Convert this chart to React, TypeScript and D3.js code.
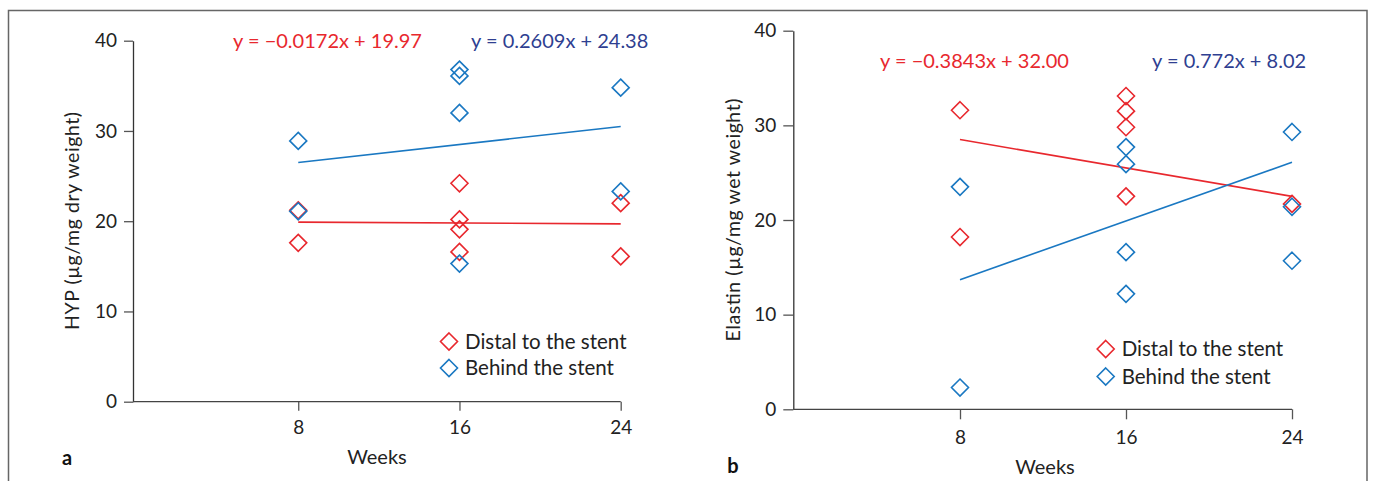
import React, { useEffect, useRef } from "react";
import * as d3 from "d3";

// week positions on the x axis
const weekTicks = [8, 16, 24];
const yTicks = [0, 10, 20, 30, 40];

// panel a: HYP
const hypDistalWeeks = [8, 8, 16, 16, 16, 16, 24, 24];
const hypDistalValues = [21.2, 17.6, 24.2, 20.2, 19.1, 16.6, 22.0, 16.1];
const hypBehindWeeks = [8, 8, 16, 16, 16, 16, 24, 24];
const hypBehindValues = [28.9, 21.1, 36.8, 36.1, 32.0, 15.3, 34.8, 23.3];
const hypDistalFit = [19.9, 19.7]; // value at week 8 and 24
const hypBehindFit = [26.5, 30.5];

// panel b: elastin
const elaDistalWeeks = [8, 8, 16, 16, 16, 16, 24];
const elaDistalValues = [31.6, 18.2, 33.1, 31.5, 29.8, 22.5, 21.7];
const elaBehindWeeks = [8, 8, 16, 16, 16, 16, 24, 24, 24];
const elaBehindValues = [23.5, 2.3, 27.7, 25.9, 16.6, 12.2, 29.3, 21.4, 15.7];
const elaDistalFit = [28.5, 22.5];
const elaBehindFit = [13.7, 26.1];

const seriesNames = ["Distal to the stent", "Behind the stent"];

const RED = "#e8282e";
const BLUE = "#1a78c2";
const NAVY = "#2f3f91";
const FONT = "Lato, 'Open Sans', sans-serif";

const panels = [
  {
    letter: "a",
    yLabel: "HYP (µg/mg dry weight)",
    eqDistal: "y = \u22120.0172x + 19.97",
    eqBehind: "y = 0.2609x + 24.38",
    distal: { weeks: hypDistalWeeks, values: hypDistalValues, fit: hypDistalFit },
    behind: { weeks: hypBehindWeeks, values: hypBehindValues, fit: hypBehindFit },
    axisX: 133,
    xRange: [137, 620.7],
    yRange: [401.7, 40.7],
    tickSize: 9,
    eq: { y: 41, distalX: 233, behindX: 471 },
    legend: { x: 449, y: 341.5, gap: 26.5 },
    yLabelPos: [72, 221],
    yLabelLen: 218,
    weeksPos: [377, 457],
    letterPos: [67, 458],
  },
  {
    letter: "b",
    yLabel: "Elastin (µg/mg wet weight)",
    eqDistal: "y = \u22120.3843x + 32.00",
    eqBehind: "y = 0.772x + 8.02",
    distal: { weeks: elaDistalWeeks, values: elaDistalValues, fit: elaDistalFit },
    behind: { weeks: elaBehindWeeks, values: elaBehindValues, fit: elaBehindFit },
    axisX: 793.3,
    xRange: [794, 1292],
    yRange: [409.3, 30.7],
    tickSize: 10,
    eq: { y: 61, distalX: 880, behindX: 1152 },
    legend: { x: 1105.7, y: 349, gap: 27.5 },
    yLabelPos: [733, 220],
    yLabelLen: 243,
    weeksPos: [1045, 467],
    letterPos: [733, 466],
  },
];

const diamond = (cx, cy, r) =>
  `M${cx},${cy - r}L${cx + r},${cy}L${cx},${cy + r}L${cx - r},${cy}Z`;

const App = () => {
  const ref = useRef(null);

  useEffect(() => {
    const svg = d3.select(ref.current);
    svg.selectAll("*").remove();

    // outer frame (open at the bottom)
    svg
      .append("path")
      .attr("d", "M8.5,481V10.5H1367V481")
      .attr("fill", "none")
      .attr("stroke", "#666")
      .attr("stroke-width", 1.5);

    panels.forEach((p) => {
      const x = d3.scaleLinear().domain([0, 24]).range(p.xRange);
      const y = d3.scaleLinear().domain([0, 40]).range(p.yRange);
      const g = svg.append("g").style("font-family", FONT);

      // y axis
      const ya = g
        .append("g")
        .attr("transform", `translate(${p.axisX},0)`)
        .call(
          d3
            .axisLeft(y)
            .tickValues(yTicks)
            .tickSize(p.tickSize)
            .tickSizeOuter(0)
            .tickPadding(7)
        );
      ya.select(".domain").attr("stroke", "#333").attr("stroke-width", 1.3);
      ya.selectAll(".tick line").attr("stroke", "#555").attr("stroke-width", 1.3);
      ya.selectAll("text")
        .attr("fill", "#222")
        .style("font-size", "19px")
        .style("font-family", FONT);

      // x axis
      const xa = g
        .append("g")
        .attr("transform", `translate(0,${y(0)})`)
        .call(
          d3
            .axisBottom(x)
            .tickValues(weekTicks)
            .tickSize(p.tickSize)
            .tickSizeOuter(0)
            .tickPadding(p.tickSize + 1)
        );
      xa.select(".domain").remove();
      xa.append("line")
        .attr("x1", p.axisX)
        .attr("x2", x(24))
        .attr("stroke", "#444")
        .attr("stroke-width", 1.3);
      xa.selectAll(".tick line").attr("stroke", "#555").attr("stroke-width", 1.3);
      xa.selectAll("text")
        .attr("fill", "#222")
        .style("font-size", "19px")
        .style("font-family", FONT);

      // regression lines
      [
        [p.distal.fit, RED],
        [p.behind.fit, BLUE],
      ].forEach(([fit, c]) => {
        g.append("line")
          .attr("x1", x(8))
          .attr("y1", y(fit[0]))
          .attr("x2", x(24))
          .attr("y2", y(fit[1]))
          .attr("stroke", c)
          .attr("stroke-width", 1.6);
      });

      // points
      [
        [p.distal, RED],
        [p.behind, BLUE],
      ].forEach(([s, c]) => {
        g.append("g")
          .selectAll("path")
          .data(s.values)
          .join("path")
          .attr("d", (v, i) => diamond(x(s.weeks[i]), y(v), 8.5))
          .attr("fill", "none")
          .attr("stroke", c)
          .attr("stroke-width", 1.6);
      });

      // equations
      g.append("text")
        .attr("x", p.eq.distalX)
        .attr("y", p.eq.y)
        .attr("dy", "0.35em")
        .attr("fill", RED)
        .style("font-size", "20px")
        .text(p.eqDistal);
      g.append("text")
        .attr("x", p.eq.behindX)
        .attr("y", p.eq.y)
        .attr("dy", "0.35em")
        .attr("fill", NAVY)
        .style("font-size", "20px")
        .text(p.eqBehind);

      // legend
      [RED, BLUE].forEach((c, i) => {
        const ly = p.legend.y + i * p.legend.gap;
        g.append("path")
          .attr("d", diamond(p.legend.x, ly, 8.5))
          .attr("fill", "none")
          .attr("stroke", c)
          .attr("stroke-width", 1.6);
        g.append("text")
          .attr("x", p.legend.x + 16)
          .attr("y", ly)
          .attr("dy", "0.35em")
          .attr("fill", "#222")
          .style("font-size", "20.5px")
          .text(seriesNames[i]);
      });

      // axis titles
      g.append("text")
        .attr("transform", `translate(${p.yLabelPos[0]},${p.yLabelPos[1]}) rotate(-90)`)
        .attr("text-anchor", "middle")
        .attr("dy", "0.35em")
        .attr("fill", "#222")
        .attr("textLength", p.yLabelLen)
        .attr("lengthAdjust", "spacing")
        .style("font-size", "19.5px")
        .text(p.yLabel);
      g.append("text")
        .attr("x", p.weeksPos[0])
        .attr("y", p.weeksPos[1])
        .attr("text-anchor", "middle")
        .attr("dy", "0.35em")
        .attr("fill", "#222")
        .style("font-size", "20px")
        .text("Weeks");
      g.append("text")
        .attr("x", p.letterPos[0])
        .attr("y", p.letterPos[1])
        .attr("text-anchor", "middle")
        .attr("dy", "0.35em")
        .attr("fill", "#111")
        .style("font-size", "20px")
        .style("font-weight", "bold")
        .text(p.letter);
    });
  }, []);

  return (
    <svg
      ref={ref}
      width={1375}
      height={481}
      style={{ position: "absolute", left: 0, top: 0, background: "#fff" }}
    />
  );
};

export default App;
